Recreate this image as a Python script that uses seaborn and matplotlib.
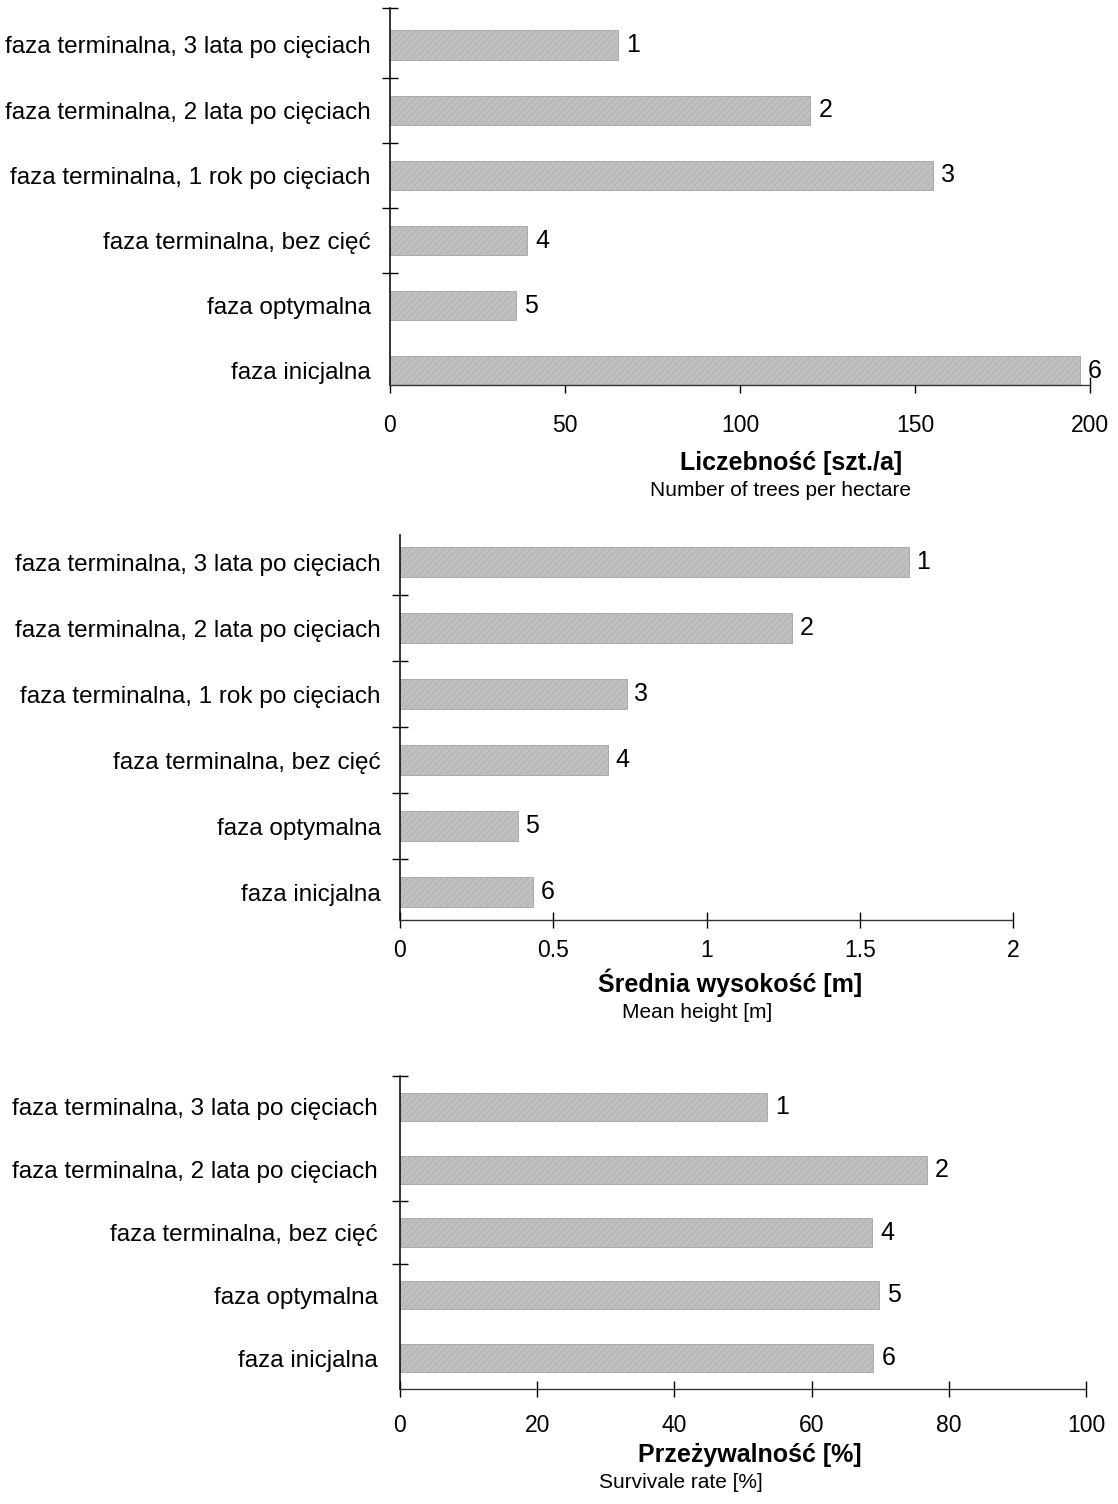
import matplotlib
matplotlib.use("Agg")
import matplotlib.pyplot as plt
import seaborn as sns
import pandas as pd

# data
phases6 = ['faza terminalna, 3 lata po cięciach', 'faza terminalna, 2 lata po cięciach',
           'faza terminalna, 1 rok po cięciach', 'faza terminalna, bez cięć',
           'faza optymalna', 'faza inicjalna']
ids6 = ['1', '2', '3', '4', '5', '6']
trees_per_ha = [65, 120, 155, 39, 36, 197]
mean_height = [1.66, 1.28, 0.74, 0.68, 0.385, 0.435]

phases5 = ['faza terminalna, 3 lata po cięciach', 'faza terminalna, 2 lata po cięciach',
           'faza terminalna, bez cięć', 'faza optymalna', 'faza inicjalna']
ids5 = ['1', '2', '4', '5', '6']
survival = [53.5, 76.8, 68.8, 69.8, 69.0]

sns.set_style("white")
plt.rcParams['font.family'] = ['Liberation Sans', 'DejaVu Sans']
plt.rcParams['hatch.linewidth'] = 0.35
plt.rcParams['text.color'] = 'black'
plt.rcParams['xtick.color'] = 'black'
plt.rcParams['ytick.color'] = 'black'

FONT = ['Liberation Sans', 'DejaVu Sans']

W, H = 1118, 1504
fig = plt.figure(figsize=(W / 100, H / 100), dpi=100)


def px_axes(left, right, top, bottom):
    return fig.add_axes([left / W, 1 - bottom / H, (right - left) / W, (bottom - top) / H])


def panel(ax, cats, ids, vals, xmax, xticks, xticklabels, ylim, boundary_ticks, tick_pad, label_pad):
    df = pd.DataFrame({'phase': cats, 'value': vals})
    sns.barplot(data=df, x='value', y='phase', orient='h', color='#c0c0c0',
                width=0.45, saturation=1, ax=ax)
    for p in ax.patches:
        p.set_hatch('/////')
        p.set_edgecolor('#a3a3a3')
        p.set_linewidth(0.6)
    for p, t in zip(ax.patches, ids):
        ax.text(p.get_width() + xmax * 0.012, p.get_y() + p.get_height() / 2, t,
                va='center', ha='left', fontsize=18, family=FONT)
    ax.set_xlim(0, xmax)
    ax.set_ylim(*ylim)
    ax.set_xticks(xticks)
    ax.set_xticklabels(xticklabels, family=FONT, fontsize=16.5)
    ax.set_yticks(range(len(cats)))
    ax.set_yticklabels(cats, family=FONT, fontsize=17.5)
    ax.set_yticks(boundary_ticks, minor=True)
    ax.tick_params(axis='y', which='major', length=0, pad=label_pad)
    ax.tick_params(axis='y', which='minor', left=True, direction='inout', length=12, width=1)
    ax.tick_params(axis='x', which='major', bottom=True, direction='inout', length=12, width=1,
                   pad=tick_pad)
    ax.set_xlabel('')
    ax.set_ylabel('')
    for s in ['top', 'right']:
        ax.spines[s].set_visible(False)
    ax.spines['left'].set_linewidth(1.2)
    ax.spines['left'].set_color('#111111')
    ax.spines['bottom'].set_linewidth(1.0)
    ax.spines['bottom'].set_color('#333333')


# panel 1 - number of trees
ax1 = px_axes(390, 1090, 8, 385)
panel(ax1, phases6, ids6, trees_per_ha, 200, [0, 50, 100, 150, 200],
      ['0', '50', '100', '150', '200'], (5.215, -0.567), [-0.567, 0.5, 1.5, 2.5, 3.5], 15, 14)
fig.text(791 / W, 1 - 463 / H, 'Liczebność [szt./a]', ha='center', va='center',
         fontsize=18, fontweight='bold', family=FONT)
fig.text(781 / W, 1 - 491 / H, 'Number of trees per hectare', ha='center', va='center',
         fontsize=15, family=FONT)

# panel 2 - mean height
ax2 = px_axes(400, 1013, 535, 920)
panel(ax2, phases6, ids6, mean_height, 2, [0, 0.5, 1, 1.5, 2],
      ['0', '0.5', '1', '1.5', '2'], (5.42, -0.41), [0.5, 1.5, 2.5, 3.5, 4.5], 8, 14)
fig.text(730 / W, 1 - 983 / H, 'Średnia wysokość [m]', ha='center', va='center',
         fontsize=18, fontweight='bold', family=FONT)
fig.text(697 / W, 1 - 1012 / H, 'Mean height [m]', ha='center', va='center',
         fontsize=15, family=FONT)

# panel 3 - survival rate
ax3 = px_axes(400, 1086, 1076, 1389)
panel(ax3, phases5, ids5, survival, 100, [0, 20, 40, 60, 80, 100],
      ['0', '20', '40', '60', '80', '100'], (4.49, -0.49), [-0.49, 1.5, 2.5], 12, 16)
fig.text(750 / W, 1 - 1455 / H, 'Przeżywalność [%]', ha='center', va='center',
         fontsize=18, fontweight='bold', family=FONT)
fig.text(681 / W, 1 - 1483 / H, 'Survivale rate [%]', ha='center', va='center',
         fontsize=15, family=FONT)

fig.savefig('out.png', dpi=100, facecolor='white')
